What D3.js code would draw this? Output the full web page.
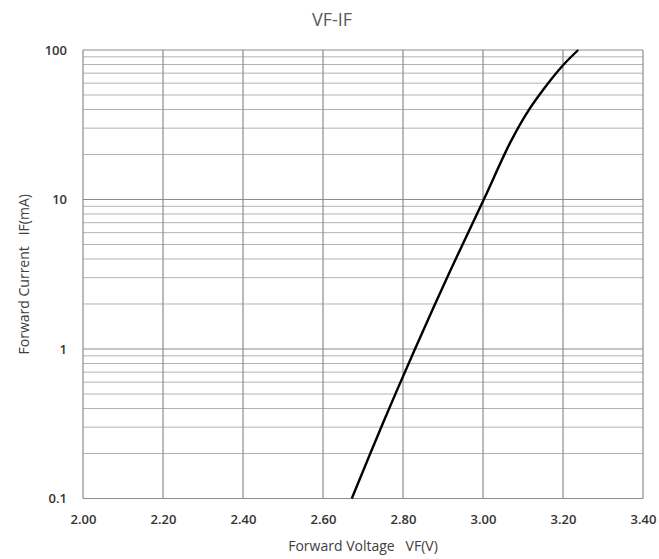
<!DOCTYPE html>
<html>
<head>
<meta charset="utf-8">
<script src="https://cdn.jsdelivr.net/npm/d3@7"></script>
<style>
  body { margin: 0; background: #fff; }
  text { font-family: "Open Sans", "Liberation Sans", sans-serif; }
</style>
</head>
<body>
<svg id="chart" width="659" height="559"></svg>
<script>
// forward voltage (V) vs forward current (mA)
var vf = [2.672, 2.750, 2.830, 2.915, 3.002, 3.068, 3.110, 3.150, 3.200, 3.238];
var ifwd = [0.1, 0.32, 1.0, 3.2, 10, 24, 38, 54, 79, 100];

var xTicks = [2.0, 2.2, 2.4, 2.6, 2.8, 3.0, 3.2, 3.4];
var yTicks = [0.1, 1, 10, 100];

var margin = {top: 50, right: 16, bottom: 60.5, left: 83},
    width = 659 - margin.left - margin.right,
    height = 559 - margin.top - margin.bottom;

var svg = d3.select('#chart');
var g = svg.append('g')
  .attr('transform', 'translate(' + margin.left + ',' + margin.top + ')');

var x = d3.scaleLinear().domain([2.0, 3.4]).range([0, width]);
var y = d3.scaleLog().domain([0.1, 100]).range([height, 0]);

// minor horizontal grid: 2..9 in every decade
var minor = [];
[0.1, 1, 10].forEach(function(d) {
  for (var k = 2; k <= 9; k++) minor.push(d * k);
});

g.append('g').selectAll('line.minor')
  .data(minor)
  .enter().append('line')
  .attr('class', 'minor')
  .attr('x1', 0).attr('x2', width)
  .attr('y1', function(d) { return y(d); })
  .attr('y2', function(d) { return y(d); })
  .attr('stroke', '#b4b4b4')
  .attr('stroke-width', 1);

g.append('g').selectAll('line.major')
  .data(yTicks)
  .enter().append('line')
  .attr('class', 'major')
  .attr('x1', 0).attr('x2', width)
  .attr('y1', function(d) { return y(d); })
  .attr('y2', function(d) { return y(d); })
  .attr('stroke', '#8c8c8c')
  .attr('stroke-width', 1.2);

g.append('g').selectAll('line.vert')
  .data(xTicks)
  .enter().append('line')
  .attr('class', 'vert')
  .attr('x1', function(d) { return x(d); })
  .attr('x2', function(d) { return x(d); })
  .attr('y1', 0).attr('y2', height)
  .attr('stroke', '#8c8c8c')
  .attr('stroke-width', 1.2);

// axes (labels only, grid drawn above)
var yAxis = d3.axisLeft(y)
  .tickValues(yTicks)
  .tickSize(0)
  .tickPadding(16)
  .tickFormat(function(d) { return d < 1 ? '0.1' : String(d); });

g.append('g')
  .call(yAxis)
  .call(function(s) { s.select('.domain').remove(); })
  .selectAll('text')
  .attr('font-size', 13)
  .attr('font-weight', 600)
  .attr('fill', '#333')
  .style('font-family', '"Open Sans", sans-serif');

var xAxis = d3.axisBottom(x)
  .tickValues(xTicks)
  .tickSize(0)
  .tickPadding(16)
  .tickFormat(d3.format('.2f'));

g.append('g')
  .attr('transform', 'translate(0,' + height + ')')
  .call(xAxis)
  .call(function(s) { s.select('.domain').remove(); })
  .selectAll('text')
  .attr('font-size', 13)
  .attr('font-weight', 600)
  .attr('fill', '#333')
  .style('font-family', '"Open Sans", sans-serif');

// curve
var line = d3.line()
  .x(function(d, i) { return x(vf[i]); })
  .y(function(d) { return y(d); })
  .curve(d3.curveCatmullRom.alpha(0.5));

g.append('path')
  .datum(ifwd)
  .attr('d', line)
  .attr('fill', 'none')
  .attr('stroke', '#000')
  .attr('stroke-width', 2.4);

// titles
svg.append('text')
  .attr('x', 332)
  .attr('y', 26)
  .attr('text-anchor', 'middle')
  .attr('font-size', 18)
  .attr('fill', '#595959')
  .text('VF-IF');

svg.append('text')
  .attr('transform', 'translate(29,' + (margin.top + height / 2) + ') rotate(-90)')
  .attr('text-anchor', 'middle')
  .attr('font-size', 14)
  .attr('fill', '#404040')
  .style('white-space', 'pre')
  .text('Forward Current   IF(mA)');

svg.append('text')
  .attr('x', margin.left + width / 2)
  .attr('y', 551)
  .attr('text-anchor', 'middle')
  .attr('font-size', 14)
  .attr('fill', '#404040')
  .style('white-space', 'pre')
  .text('Forward Voltage   VF(V)');
</script>
</body>
</html>
